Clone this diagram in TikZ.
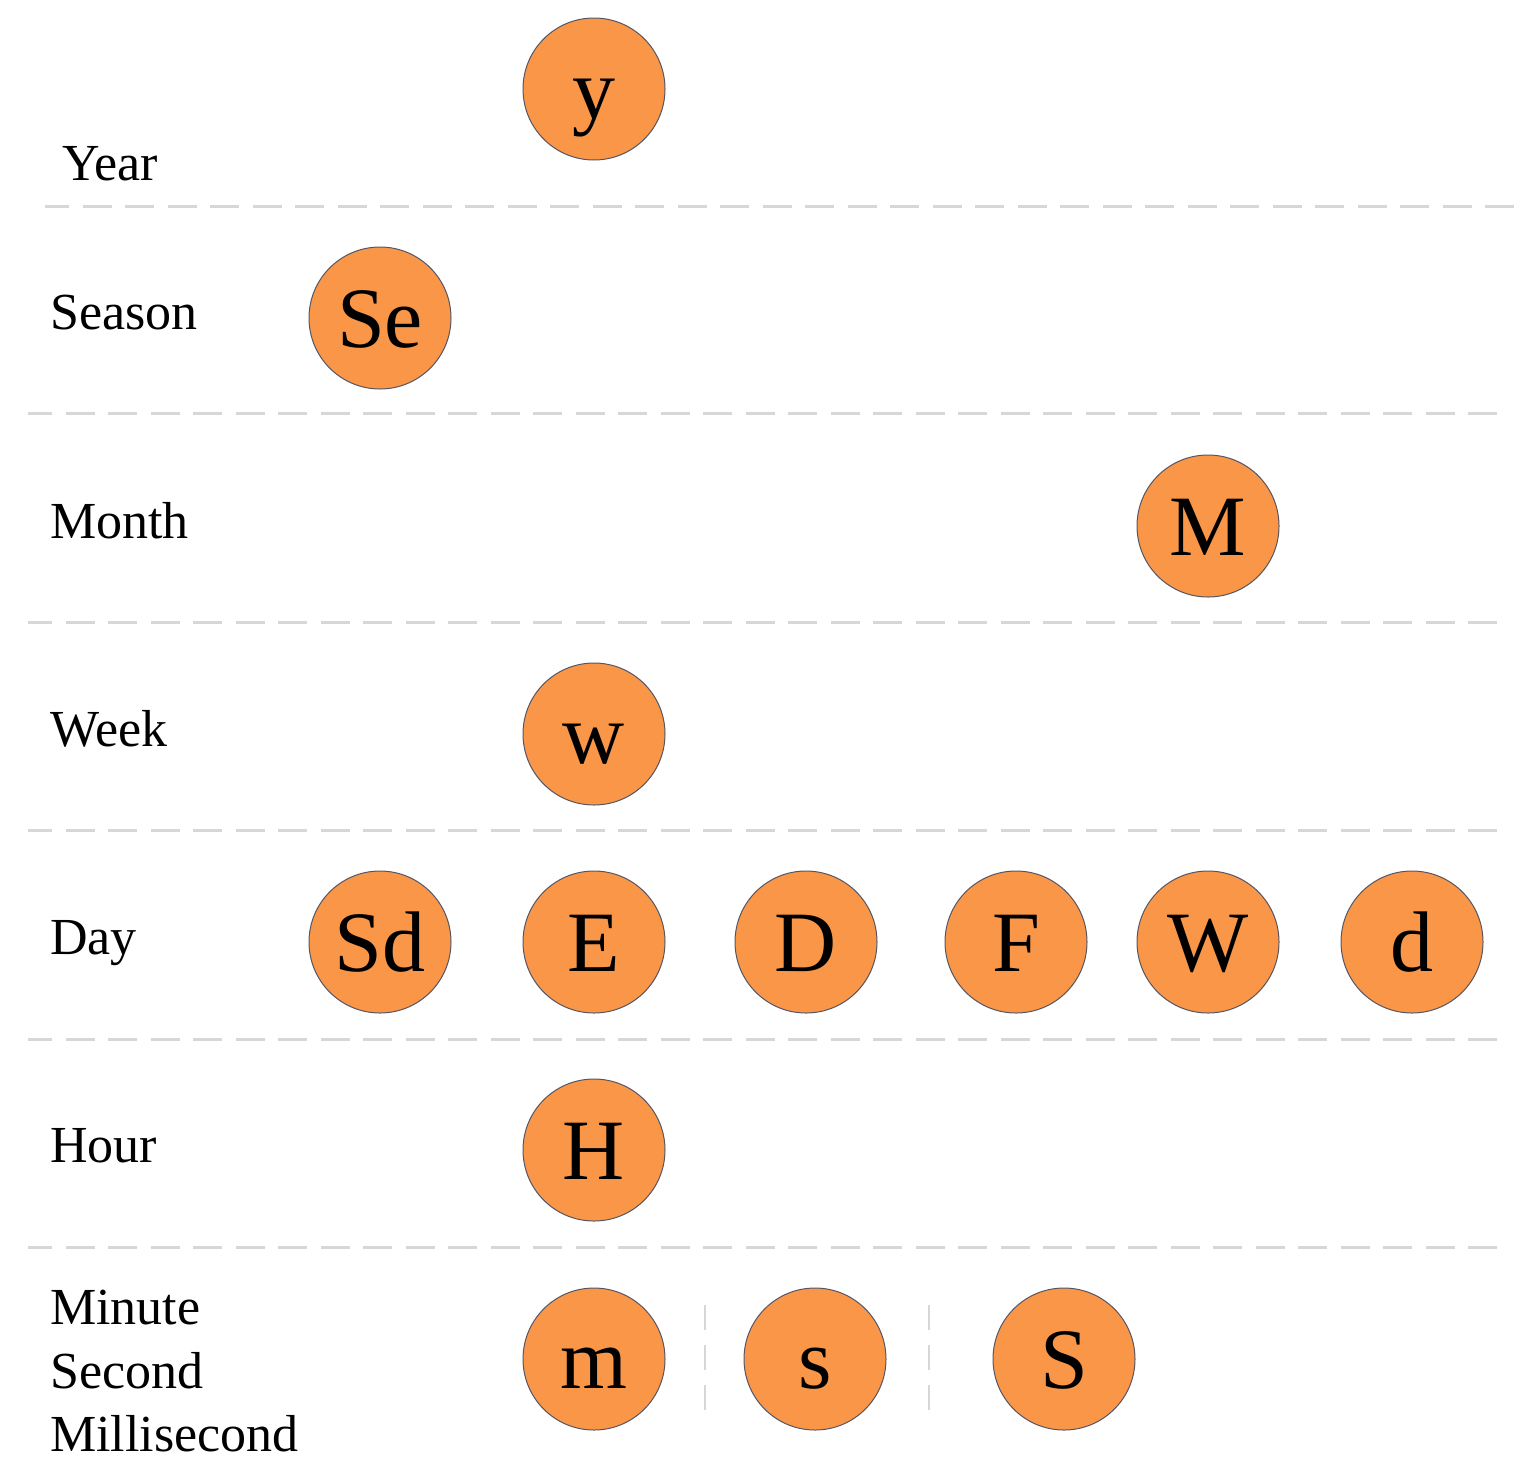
\documentclass[tikz,border=0pt]{standalone}
\usepackage{fontspec}
\setmainfont{Liberation Serif}
\begin{document}
\begin{tikzpicture}[x=1pt,y=-1pt,
  unit/.style={circle,draw={rgb,255:red,85;green,85;blue,100},line width=1pt,
    fill={rgb,255:red,250;green,150;blue,72},minimum size=142pt,inner sep=0pt,
    font=\fontsize{86}{86}\selectfont,text height=58pt,text depth=0pt},
  rowlabel/.style={anchor=base west,inner sep=0pt,font=\fontsize{52}{62}\selectfont},
  sep/.style={draw={rgb,255:red,215;green,215;blue,215},line width=3pt,dash pattern=on 29pt off 13.5pt},
  vsep/.style={draw={rgb,255:red,215;green,215;blue,215},line width=2.5pt,dash pattern=on 25pt off 15pt}]
\useasboundingbox (0,0) rectangle (1538,1465);
% separators
\coordinate (l1a) at (45,206);  \coordinate (l1b) at (1514,206);
\coordinate (l2a) at (28,413);  \coordinate (l2b) at (1497,413);
\coordinate (l3a) at (28,622);  \coordinate (l3b) at (1497,622);
\coordinate (l4a) at (28,830);  \coordinate (l4b) at (1497,830);
\coordinate (l5a) at (28,1039); \coordinate (l5b) at (1497,1039);
\coordinate (l6a) at (28,1247); \coordinate (l6b) at (1497,1247);
\draw[sep] (l1b) -- (l1a);
\draw[sep] (l2b) -- (l2a);
\draw[sep] (l3b) -- (l3a);
\draw[sep] (l4b) -- (l4a);
\draw[sep] (l5b) -- (l5a);
\draw[sep] (l6b) -- (l6a);
\coordinate (v1a) at (705,1305); \coordinate (v1b) at (705,1416);
\coordinate (v2a) at (929,1305); \coordinate (v2b) at (929,1416);
\draw[vsep] (v1a) -- (v1b);
\draw[vsep] (v2a) -- (v2b);
% labels
\node[rowlabel] (tyear) at (62,180) {Year};
\node[rowlabel] (tseason) at (50,329) {Season};
\node[rowlabel] (tmonth) at (50,538) {Month};
\node[rowlabel] (tweek) at (50,746) {Week};
\node[rowlabel] (tday) at (50,954) {Day};
\node[rowlabel] (thour) at (50,1162) {Hour};
\node[rowlabel] (tmin) at (50,1324) {Minute};
\node[rowlabel] (tsec) at (50,1388) {Second};
\node[rowlabel] (tms) at (50,1451) {Millisecond};
% units
\node[unit] (y) at (594,89) {y};
\node[unit] (Se) at (380,318) {Se};
\node[unit] (M) at (1208,526) {M};
\node[unit] (w) at (594,734) {w};
\node[unit] (Sd) at (380,942) {Sd};
\node[unit] (E) at (594,942) {E};
\node[unit] (D) at (806,942) {D};
\node[unit] (F) at (1016,942) {F};
\node[unit] (W) at (1208,942) {W};
\node[unit] (d) at (1412,942) {d};
\node[unit] (H) at (594,1150) {H};
\node[unit] (m) at (594,1359) {m};
\node[unit] (s) at (815,1359) {s};
\node[unit] (S) at (1064,1359) {S};
\end{tikzpicture}
\end{document}
